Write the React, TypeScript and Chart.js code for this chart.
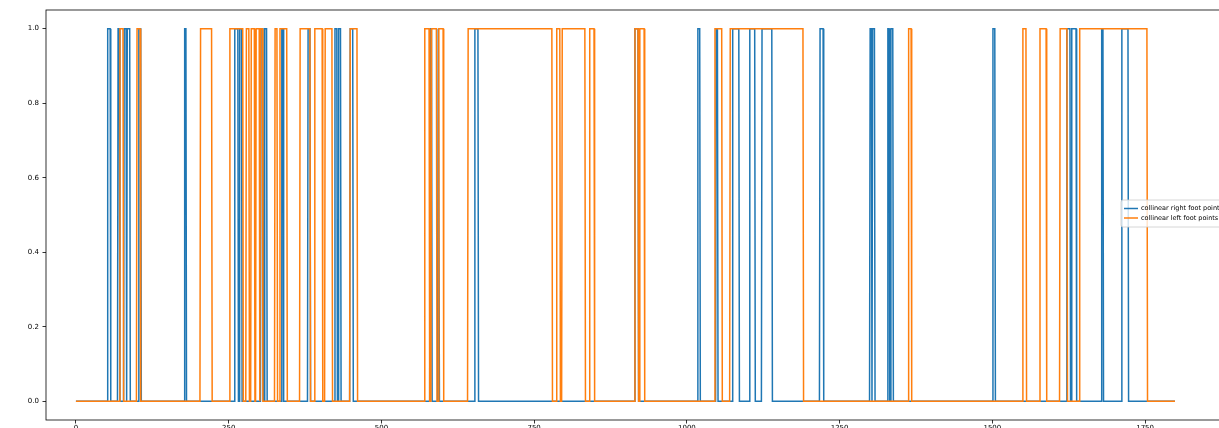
import React, { useEffect, useRef } from "react";
import { Chart, registerables } from "chart.js";

Chart.register(...registerables);

// ---- data ----
const LAST_FRAME = 1799;
const X_TICKS = [0, 250, 500, 750, 1000, 1250, 1500, 1750];
const Y_TICKS = [0, 0.2, 0.4, 0.6, 0.8, 1.0];
const SERIES_LABELS = ["collinear right foot points", "collinear left foot points"];

// frames where the flag is 1 (start, end)
const RIGHT_FOOT_ON: [number, number][] = [
  [52, 56], [69, 71], [79, 82], [84, 88], [103, 106], [178, 180],
  [260, 265], [268, 271], [303, 306], [309, 312], [337, 339], [380, 383],
  [424, 427], [430, 433], [449, 453], [580, 582], [593, 594], [653, 658],
  [915, 920], [1018, 1021], [1048, 1050], [1075, 1085], [1103, 1111],
  [1123, 1139], [1218, 1223], [1300, 1302], [1304, 1307], [1329, 1331],
  [1334, 1337], [1501, 1504], [1622, 1627], [1630, 1637], [1679, 1681],
  [1712, 1722],
];
const LEFT_FOOT_ON: [number, number][] = [
  [72, 77], [100, 105], [204, 222], [252, 273], [279, 283], [287, 292],
  [295, 300], [302, 305], [326, 329], [334, 345], [367, 383], [391, 403],
  [408, 419], [449, 460], [571, 578], [582, 590], [594, 601], [642, 779],
  [787, 792], [796, 833], [841, 848], [915, 920], [923, 930], [1046, 1057],
  [1071, 1190], [1363, 1367], [1550, 1555], [1578, 1588], [1611, 1622],
  [1643, 1753],
];

function toPoints(on: [number, number][]) {
  const pts: { x: number; y: number }[] = [{ x: 0, y: 0 }];
  for (const [a, b] of on) {
    pts.push({ x: a - 1, y: 0 }, { x: a, y: 1 }, { x: b, y: 1 }, { x: b + 1, y: 0 });
  }
  pts.push({ x: LAST_FRAME, y: 0 });
  return pts;
}

const BLUE = "#1f77b4";
const ORANGE = "#ff7f0e";
const FONT = "DejaVu Sans";

const framePlugin = {
  id: "frame",
  afterDraw(chart: any) {
    const { ctx, chartArea: a } = chart;
    ctx.save();
    ctx.strokeStyle = "#000";
    ctx.lineWidth = 0.8;
    ctx.strokeRect(a.left, a.top, a.right - a.left, a.bottom - a.top);
    // legend
    const x = 1121, y = 200, w = 130, h = 27;
    ctx.fillStyle = "rgba(255,255,255,0.8)";
    ctx.strokeStyle = "#cccccc";
    ctx.beginPath();
    ctx.roundRect(x, y, w, h, 2);
    ctx.fill();
    ctx.stroke();
    const colors = [BLUE, ORANGE];
    SERIES_LABELS.forEach((lab, i) => {
      const ly = y + 8.5 + i * 9.5;
      ctx.strokeStyle = colors[i];
      ctx.lineWidth = 1.5;
      ctx.beginPath();
      ctx.moveTo(x + 3, ly);
      ctx.lineTo(x + 17, ly);
      ctx.stroke();
      ctx.fillStyle = "#000";
      ctx.font = `6.5px '${FONT}'`;
      ctx.textBaseline = "middle";
      ctx.fillText(lab, x + 20, ly);
    });
    ctx.restore();
  },
};

export default function App() {
  const ref = useRef<HTMLCanvasElement>(null);
  useEffect(() => {
    const chart = new Chart(ref.current!, {
      type: "line",
      data: {
        datasets: [
          {
            label: SERIES_LABELS[0],
            data: toPoints(RIGHT_FOOT_ON),
            borderColor: BLUE,
            borderWidth: 1.5,
            pointRadius: 0,
            tension: 0,
            order: 1,
          },
          {
            label: SERIES_LABELS[1],
            data: toPoints(LEFT_FOOT_ON),
            borderColor: ORANGE,
            borderWidth: 1.5,
            pointRadius: 0,
            tension: 0,
            order: 0,
          },
        ],
      },
      options: {
        animation: false,
        responsive: false,
        layout: { padding: { top: 10, right: 10, left: 0, bottom: 0 } },
        plugins: { legend: { display: false }, tooltip: { enabled: false } },
        scales: {
          x: {
            type: "linear",
            min: -49,
            max: 1889,
            afterFit: (s: any) => { s.height = 8; },
            afterBuildTicks: (s: any) => { s.ticks = X_TICKS.map((v) => ({ value: v })); },
            grid: { drawOnChartArea: false, tickLength: 3.5, color: "#000", lineWidth: 0.8 },
            border: { display: false },
            ticks: {
              padding: 0.5, color: "#000", font: { family: FONT, size: 7 }, maxRotation: 0, autoSkip: false,
              callback: (v: any) => String(v),
            },
          },
          y: {
            type: "linear",
            min: -0.05,
            max: 1.05,
            afterFit: (s: any) => { s.width = 46; },
            afterBuildTicks: (s: any) => { s.ticks = Y_TICKS.map((v) => ({ value: v })); },
            grid: { drawOnChartArea: false, tickLength: 3.5, color: "#000", lineWidth: 0.8 },
            border: { display: false },
            ticks: { padding: 3.5, color: "#000", font: { family: FONT, size: 7 }, callback: (v: any) => Number(v).toFixed(1) },
          },
        },
      },
      plugins: [framePlugin],
    });
    return () => chart.destroy();
  }, []);
  return (
    <div style={{ position: "absolute", left: 0, top: 0, width: 1219, height: 428, overflow: "hidden", background: "#fff" }}>
      <canvas ref={ref} width={1240} height={428} style={{ width: 1240, height: 428 }} />
    </div>
  );
}
